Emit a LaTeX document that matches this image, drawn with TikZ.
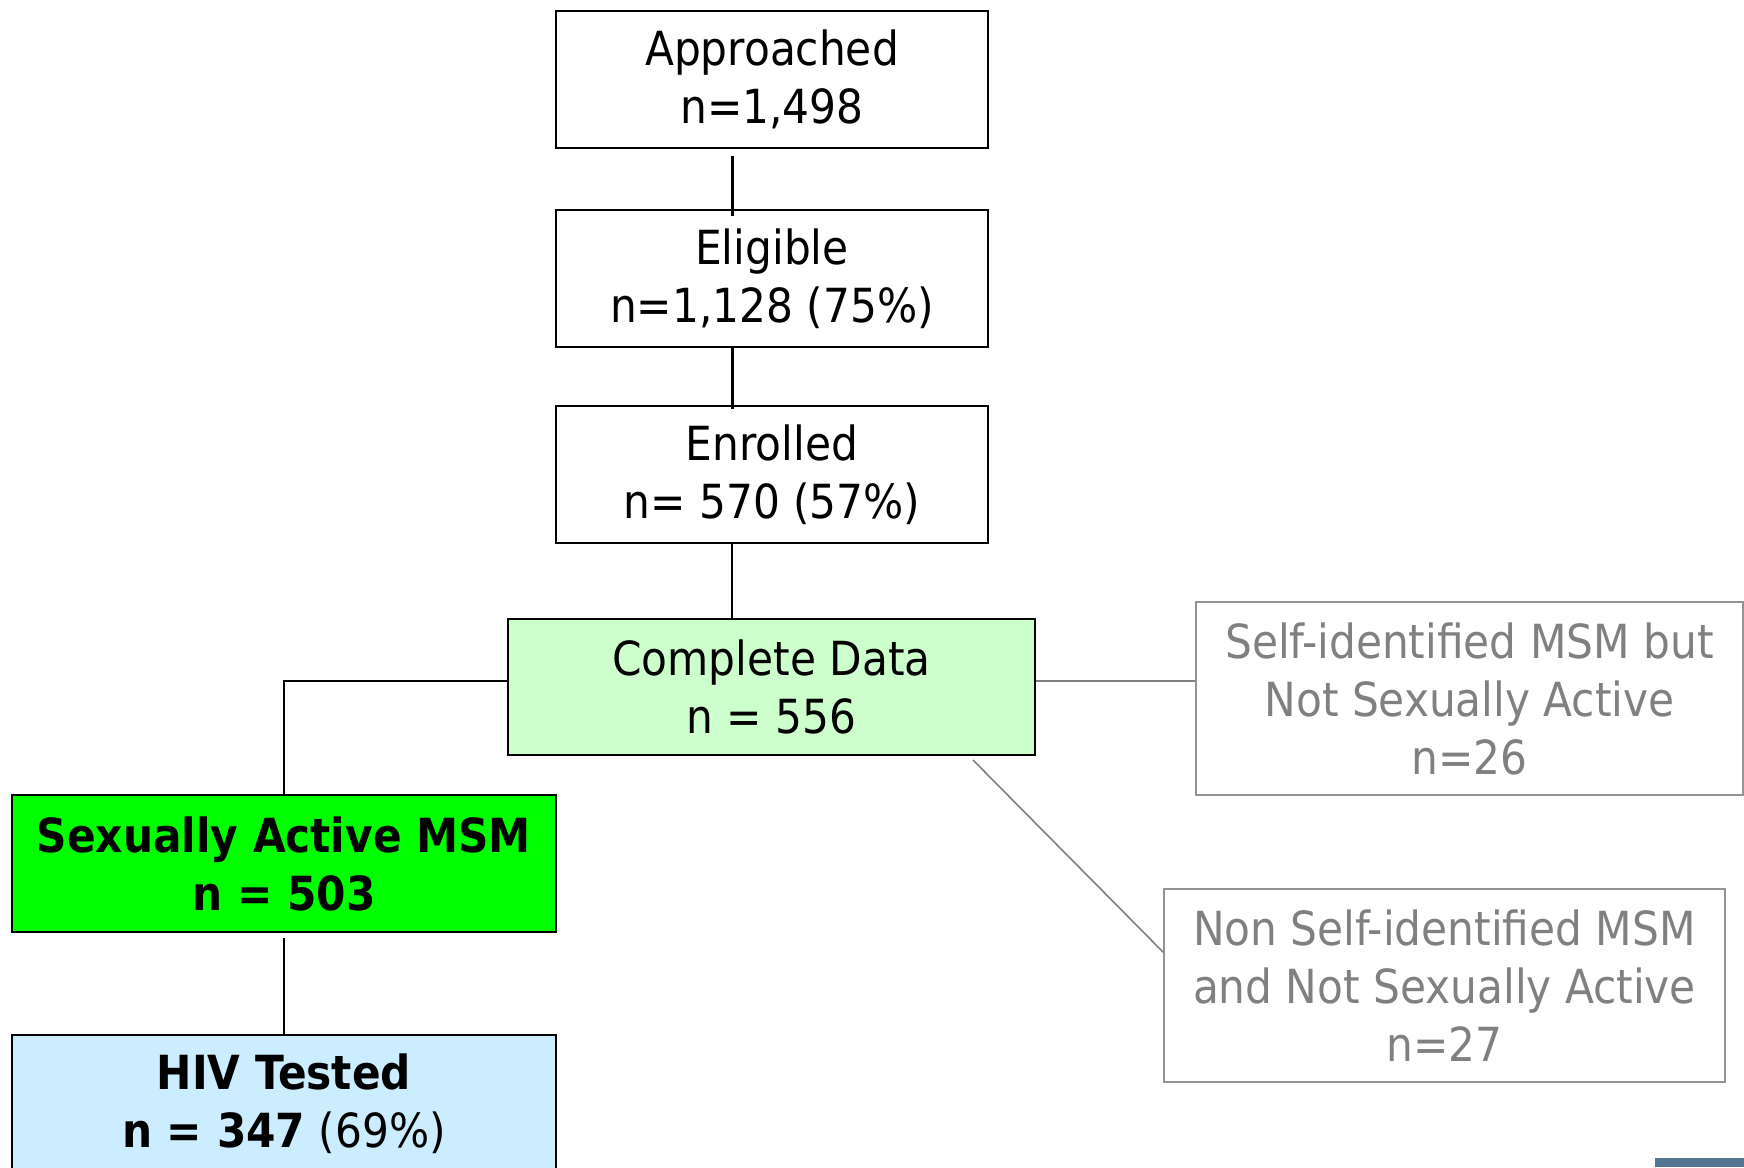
\documentclass[tikz,border=0pt]{standalone}
\usepackage{fontspec}
\setmainfont{DejaVu Sans Condensed}
\usetikzlibrary{calc}
\definecolor{mint}{RGB}{204,255,204}
\definecolor{lime}{RGB}{0,255,0}
\definecolor{sky}{RGB}{204,236,255}
\definecolor{ash}{RGB}{128,128,128}
\definecolor{steel}{RGB}{84,116,146}

\begin{document}
\begin{tikzpicture}[x=0.5pt, y=-0.5pt,
    box/.style={draw, line width=1pt, minimum width=216pt, minimum height=68.5pt,
                align=center, inner sep=0pt, font=\fontsize{23.5}{29}\selectfont},
    faded/.style={box, draw=ash!85, text=ash, line width=0.75pt, minimum height=96.5pt},
    link/.style={line width=0.8pt},
  ]
  \useasboundingbox (0,0) rectangle (1744,1167);
  \node[box] (appr) at (772,79.5) {Approached\\ n=1,498};
  \node[box] (elig) at (772,278.5) {Eligible\\ n=1,128 (75\%)};
  \node[box] (enrol) at (772,474.5) {Enrolled\\ n= 570 (57\%)};
  \node[box, fill=mint, minimum width=263.5pt, minimum height=68pt] (data) at (771.5,687) {Complete Data\\ n = 556};
  \node[box, fill=lime, minimum width=272pt] (active) at (284,863.5) {\textbf{Sexually Active MSM}\\ \textbf{n = 503}};
  \node[box, fill=sky, minimum width=272pt] (tested) at (284,1103.5) {\textbf{HIV Tested}\\ \textbf{n = 347} (69\%)};
  \node[faded, minimum width=273.5pt] (selfid) at (1469.5,698.5) {Self-identified MSM but\\ Not Sexually Active\\ n=26};
  \node[faded, minimum width=280.5pt] (nonid) at (1444.5,985.5) {Non Self-identified MSM\\ and Not Sexually Active\\ n=27};
  \coordinate (stem) at (732,0);
  \draw[line width=1.5pt, shorten <=3.5pt, shorten >=-3.5pt] (appr.south -| stem) -- (elig.north -| stem);
  \draw[line width=1.5pt, shorten >=-2pt] (elig.south -| stem) -- (enrol.north -| stem);
  \draw[link] (enrol.south -| stem) -- (data.north -| stem);
  \draw[link] ([yshift=3pt]data.west) -| (active.north);
  \draw[link, shorten <=2.5pt] (active) -- (tested);
  \draw[link, ash] ([yshift=3pt]data.east) -- ([yshift=3pt]data.east -| selfid.west);
  \draw[link, ash] ($(data.south east)+(-63,4)$) -- ($(nonid.north west)+(0,64)$);
  % corner tab
  \fill[steel] (1655,1158) rectangle (1744,1167);
\end{tikzpicture}
\end{document}
